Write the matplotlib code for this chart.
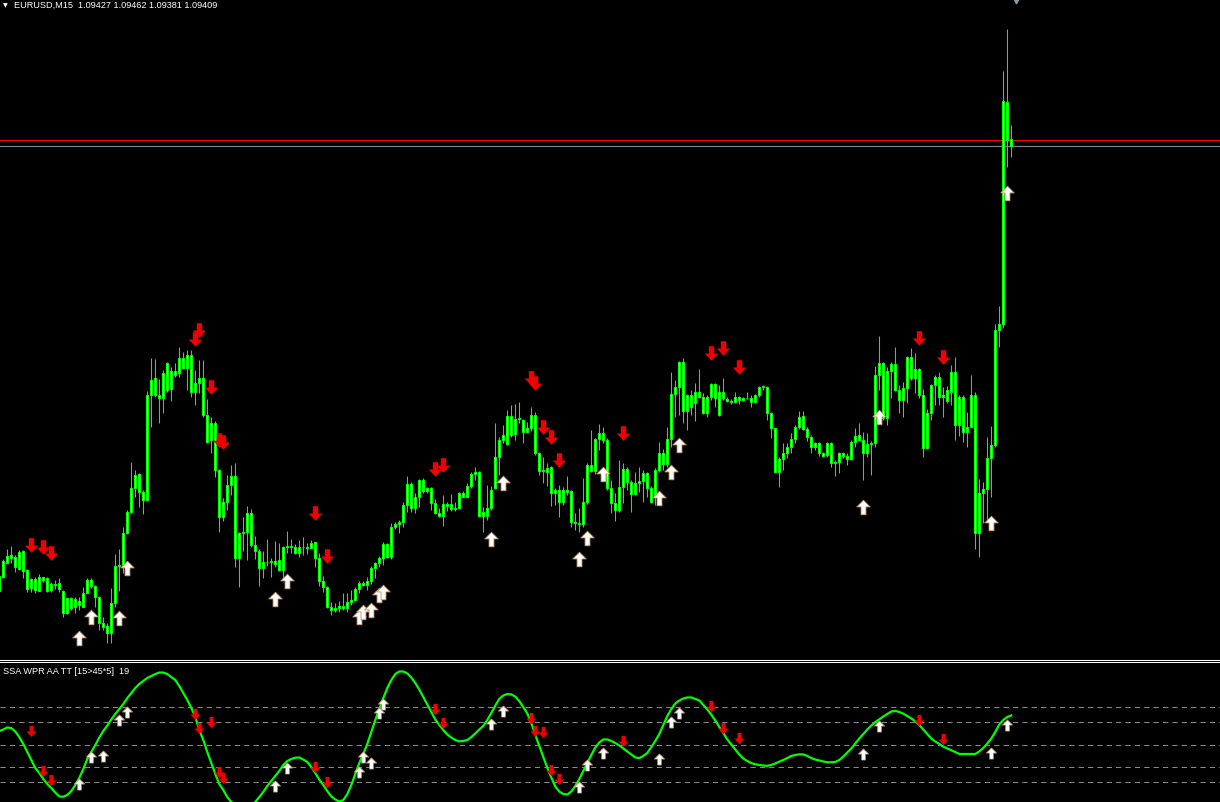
import numpy as np
import matplotlib.pyplot as plt
from matplotlib.path import Path
from matplotlib.lines import Line2D

# EURUSD M15 candles, index -1 .. 252 (the first one is cut by the left edge)
opens = [
    1.08297, 1.08332, 1.08367, 1.08386, 1.08381, 1.08351, 1.08397, 1.08349, 1.08303, 1.08326,
    1.08297, 1.08331, 1.08328, 1.08299, 1.08314, 1.08316, 1.08297, 1.08241, 1.08278, 1.08257,
    1.08272, 1.08257, 1.08292, 1.08324, 1.08309, 1.08282, 1.08216, 1.08209, 1.08191, 1.08267,
    1.08360, 1.08362, 1.08441, 1.08495, 1.08553, 1.08589, 1.08545, 1.08524, 1.08786, 1.08828,
    1.08786, 1.08778, 1.08867, 1.08801, 1.08847, 1.08841, 1.08878, 1.08853, 1.08887, 1.08795,
    1.08817, 1.08828, 1.08736, 1.08674, 1.08716, 1.08599, 1.08482, 1.08520, 1.08562, 1.08584,
    1.08378, 1.08442, 1.08445, 1.08491, 1.08412, 1.08397, 1.08353, 1.08370, 1.08368, 1.08372,
    1.08374, 1.08349, 1.08406, 1.08410, 1.08407, 1.08392, 1.08406, 1.08407, 1.08404, 1.08418,
    1.08378, 1.08322, 1.08306, 1.08257, 1.08249, 1.08255, 1.08259, 1.08255, 1.08270, 1.08274,
    1.08301, 1.08317, 1.08312, 1.08322, 1.08353, 1.08366, 1.08378, 1.08414, 1.08382, 1.08456,
    1.08464, 1.08470, 1.08511, 1.08564, 1.08503, 1.08531, 1.08574, 1.08547, 1.08553, 1.08517,
    1.08491, 1.08484, 1.08514, 1.08514, 1.08501, 1.08505, 1.08541, 1.08532, 1.08559, 1.08589,
    1.08593, 1.08484, 1.08503, 1.08503, 1.08553, 1.08632, 1.08674, 1.08664, 1.08734, 1.08689,
    1.08726, 1.08724, 1.08695, 1.08703, 1.08736, 1.08641, 1.08597, 1.08603, 1.08606, 1.08541,
    1.08549, 1.08520, 1.08549, 1.08547, 1.08470, 1.08467, 1.08464, 1.08520, 1.08612, 1.08597,
    1.08676, 1.08692, 1.08674, 1.08553, 1.08517, 1.08499, 1.08557, 1.08601, 1.08570, 1.08539,
    1.08567, 1.08572, 1.08591, 1.08553, 1.08532, 1.08599, 1.08642, 1.08614, 1.08676, 1.08789,
    1.08806, 1.08870, 1.08747, 1.08786, 1.08766, 1.08795, 1.08782, 1.08742, 1.08782, 1.08814,
    1.08795, 1.08778, 1.08776, 1.08772, 1.08768, 1.08781, 1.08774, 1.08780, 1.08779, 1.08768,
    1.08786, 1.08806, 1.08806, 1.08741, 1.08703, 1.08595, 1.08626, 1.08641, 1.08656, 1.08676,
    1.08707, 1.08734, 1.08701, 1.08681, 1.08656, 1.08666, 1.08642, 1.08636, 1.08666, 1.08616,
    1.08620, 1.08641, 1.08635, 1.08626, 1.08670, 1.08687, 1.08674, 1.08642, 1.08664, 1.08666,
    1.08837, 1.08867, 1.08728, 1.08847, 1.08864, 1.08799, 1.08774, 1.08803, 1.08881, 1.08828,
    1.08851, 1.08787, 1.08653, 1.08742, 1.08812, 1.08831, 1.08782, 1.08772, 1.08795, 1.08845,
    1.08712, 1.08781, 1.08695, 1.08706, 1.08787, 1.08442, 1.08541, 1.08551, 1.08628, 1.08662,
    1.08949, 1.08964, 1.09519, 1.09427,
]
highs = [
    1.08340, 1.08376, 1.08402, 1.08409, 1.08386, 1.08399, 1.08398, 1.08351, 1.08328, 1.08332,
    1.08338, 1.08332, 1.08332, 1.08320, 1.08324, 1.08328, 1.08299, 1.08279, 1.08282, 1.08282,
    1.08282, 1.08307, 1.08328, 1.08328, 1.08311, 1.08284, 1.08232, 1.08216, 1.08303, 1.08389,
    1.08402, 1.08457, 1.08499, 1.08620, 1.08599, 1.08591, 1.08549, 1.08796, 1.08878, 1.08876,
    1.08826, 1.08849, 1.08868, 1.08857, 1.08866, 1.08907, 1.08895, 1.08899, 1.08899, 1.08849,
    1.08874, 1.08874, 1.08776, 1.08731, 1.08722, 1.08601, 1.08528, 1.08586, 1.08612, 1.08616,
    1.08445, 1.08481, 1.08509, 1.08501, 1.08434, 1.08401, 1.08397, 1.08426, 1.08378, 1.08422,
    1.08417, 1.08409, 1.08446, 1.08426, 1.08414, 1.08424, 1.08431, 1.08416, 1.08424, 1.08420,
    1.08392, 1.08334, 1.08309, 1.08270, 1.08266, 1.08272, 1.08291, 1.08291, 1.08299, 1.08307,
    1.08322, 1.08322, 1.08332, 1.08359, 1.08370, 1.08384, 1.08420, 1.08416, 1.08466, 1.08470,
    1.08474, 1.08520, 1.08584, 1.08570, 1.08541, 1.08576, 1.08578, 1.08556, 1.08557, 1.08526,
    1.08503, 1.08537, 1.08520, 1.08539, 1.08520, 1.08545, 1.08547, 1.08566, 1.08595, 1.08606,
    1.08597, 1.08507, 1.08562, 1.08559, 1.08717, 1.08682, 1.08712, 1.08749, 1.08762, 1.08764,
    1.08770, 1.08726, 1.08720, 1.08756, 1.08745, 1.08643, 1.08631, 1.08616, 1.08609, 1.08553,
    1.08562, 1.08557, 1.08584, 1.08549, 1.08491, 1.08503, 1.08578, 1.08616, 1.08699, 1.08679,
    1.08714, 1.08707, 1.08678, 1.08574, 1.08541, 1.08624, 1.08616, 1.08606, 1.08574, 1.08595,
    1.08606, 1.08599, 1.08595, 1.08559, 1.08603, 1.08670, 1.08651, 1.08707, 1.08845, 1.08824,
    1.08872, 1.08878, 1.08790, 1.08799, 1.08816, 1.08851, 1.08791, 1.08786, 1.08817, 1.08817,
    1.08812, 1.08828, 1.08781, 1.08776, 1.08795, 1.08784, 1.08782, 1.08795, 1.08787, 1.08789,
    1.08809, 1.08812, 1.08810, 1.08745, 1.08704, 1.08632, 1.08666, 1.08666, 1.08691, 1.08712,
    1.08747, 1.08747, 1.08706, 1.08686, 1.08670, 1.08670, 1.08645, 1.08670, 1.08668, 1.08624,
    1.08645, 1.08645, 1.08641, 1.08674, 1.08703, 1.08717, 1.08695, 1.08692, 1.08672, 1.08859,
    1.08934, 1.08870, 1.08857, 1.08870, 1.08907, 1.08812, 1.08820, 1.08884, 1.08903, 1.08891,
    1.08853, 1.08801, 1.08751, 1.08814, 1.08837, 1.08845, 1.08807, 1.08809, 1.08862, 1.08882,
    1.08787, 1.08787, 1.08745, 1.08837, 1.08795, 1.08576, 1.08570, 1.08682, 1.08709, 1.08964,
    1.09010, 1.09596, 1.09701, 1.09462,
]
lows = [
    1.08292, 1.08328, 1.08366, 1.08366, 1.08345, 1.08349, 1.08328, 1.08295, 1.08295, 1.08291,
    1.08296, 1.08320, 1.08295, 1.08295, 1.08301, 1.08295, 1.08231, 1.08239, 1.08249, 1.08241,
    1.08249, 1.08256, 1.08291, 1.08303, 1.08256, 1.08199, 1.08199, 1.08166, 1.08166, 1.08257,
    1.08297, 1.08341, 1.08439, 1.08491, 1.08532, 1.08507, 1.08488, 1.08522, 1.08707, 1.08782,
    1.08717, 1.08741, 1.08795, 1.08772, 1.08832, 1.08831, 1.08851, 1.08799, 1.08782, 1.08762,
    1.08791, 1.08731, 1.08666, 1.08641, 1.08582, 1.08445, 1.08472, 1.08499, 1.08537, 1.08356,
    1.08306, 1.08397, 1.08374, 1.08407, 1.08376, 1.08309, 1.08328, 1.08359, 1.08332, 1.08357,
    1.08347, 1.08328, 1.08391, 1.08391, 1.08390, 1.08382, 1.08386, 1.08388, 1.08403, 1.08357,
    1.08309, 1.08295, 1.08253, 1.08236, 1.08245, 1.08245, 1.08249, 1.08245, 1.08261, 1.08272,
    1.08291, 1.08309, 1.08299, 1.08314, 1.08328, 1.08357, 1.08362, 1.08378, 1.08376, 1.08451,
    1.08441, 1.08457, 1.08495, 1.08495, 1.08491, 1.08506, 1.08541, 1.08541, 1.08499, 1.08489,
    1.08481, 1.08459, 1.08497, 1.08497, 1.08497, 1.08501, 1.08531, 1.08531, 1.08553, 1.08574,
    1.08481, 1.08445, 1.08474, 1.08499, 1.08551, 1.08587, 1.08666, 1.08662, 1.08682, 1.08674,
    1.08717, 1.08666, 1.08691, 1.08697, 1.08637, 1.08587, 1.08566, 1.08559, 1.08509, 1.08512,
    1.08482, 1.08512, 1.08537, 1.08457, 1.08449, 1.08445, 1.08457, 1.08514, 1.08595, 1.08589,
    1.08649, 1.08666, 1.08549, 1.08491, 1.08472, 1.08495, 1.08516, 1.08549, 1.08495, 1.08536,
    1.08545, 1.08520, 1.08532, 1.08517, 1.08511, 1.08595, 1.08599, 1.08607, 1.08657, 1.08732,
    1.08736, 1.08717, 1.08699, 1.08736, 1.08722, 1.08778, 1.08739, 1.08731, 1.08774, 1.08756,
    1.08734, 1.08774, 1.08770, 1.08764, 1.08766, 1.08764, 1.08772, 1.08776, 1.08757, 1.08766,
    1.08782, 1.08800, 1.08724, 1.08678, 1.08591, 1.08556, 1.08599, 1.08628, 1.08641, 1.08666,
    1.08701, 1.08699, 1.08672, 1.08642, 1.08649, 1.08635, 1.08632, 1.08632, 1.08607, 1.08584,
    1.08592, 1.08628, 1.08612, 1.08624, 1.08657, 1.08672, 1.08574, 1.08632, 1.08587, 1.08657,
    1.08799, 1.08724, 1.08711, 1.08778, 1.08797, 1.08742, 1.08732, 1.08766, 1.08824, 1.08792,
    1.08778, 1.08631, 1.08651, 1.08724, 1.08762, 1.08762, 1.08731, 1.08766, 1.08762, 1.08674,
    1.08684, 1.08670, 1.08657, 1.08706, 1.08401, 1.08382, 1.08466, 1.08470, 1.08532, 1.08657,
    1.08906, 1.08955, 1.09356, 1.09381,
]
closes = [
    1.08334, 1.08372, 1.08384, 1.08380, 1.08356, 1.08395, 1.08346, 1.08302, 1.08326, 1.08299,
    1.08331, 1.08324, 1.08296, 1.08314, 1.08312, 1.08301, 1.08241, 1.08278, 1.08253, 1.08276,
    1.08261, 1.08292, 1.08324, 1.08309, 1.08282, 1.08216, 1.08207, 1.08191, 1.08267, 1.08360,
    1.08362, 1.08441, 1.08495, 1.08553, 1.08586, 1.08545, 1.08524, 1.08786, 1.08824, 1.08786,
    1.08778, 1.08842, 1.08799, 1.08847, 1.08836, 1.08878, 1.08853, 1.08887, 1.08795, 1.08817,
    1.08828, 1.08736, 1.08670, 1.08716, 1.08599, 1.08482, 1.08520, 1.08562, 1.08584, 1.08378,
    1.08442, 1.08445, 1.08491, 1.08412, 1.08397, 1.08353, 1.08370, 1.08368, 1.08372, 1.08364,
    1.08349, 1.08406, 1.08410, 1.08407, 1.08392, 1.08406, 1.08407, 1.08404, 1.08416, 1.08378,
    1.08322, 1.08306, 1.08257, 1.08249, 1.08255, 1.08259, 1.08255, 1.08270, 1.08274, 1.08301,
    1.08317, 1.08312, 1.08322, 1.08353, 1.08366, 1.08378, 1.08414, 1.08382, 1.08456, 1.08464,
    1.08470, 1.08511, 1.08564, 1.08503, 1.08531, 1.08574, 1.08547, 1.08553, 1.08517, 1.08491,
    1.08484, 1.08514, 1.08509, 1.08501, 1.08505, 1.08541, 1.08532, 1.08559, 1.08589, 1.08593,
    1.08484, 1.08495, 1.08484, 1.08549, 1.08632, 1.08674, 1.08686, 1.08734, 1.08686, 1.08726,
    1.08730, 1.08695, 1.08703, 1.08736, 1.08641, 1.08597, 1.08600, 1.08595, 1.08541, 1.08549,
    1.08520, 1.08549, 1.08545, 1.08470, 1.08467, 1.08464, 1.08520, 1.08612, 1.08597, 1.08676,
    1.08692, 1.08674, 1.08553, 1.08517, 1.08499, 1.08557, 1.08601, 1.08570, 1.08539, 1.08567,
    1.08572, 1.08591, 1.08553, 1.08520, 1.08599, 1.08642, 1.08614, 1.08676, 1.08789, 1.08806,
    1.08870, 1.08747, 1.08786, 1.08757, 1.08795, 1.08782, 1.08742, 1.08782, 1.08814, 1.08778,
    1.08736, 1.08795, 1.08772, 1.08768, 1.08781, 1.08774, 1.08780, 1.08779, 1.08768, 1.08786,
    1.08806, 1.08810, 1.08741, 1.08703, 1.08595, 1.08626, 1.08641, 1.08656, 1.08676, 1.08707,
    1.08731, 1.08701, 1.08681, 1.08656, 1.08666, 1.08642, 1.08634, 1.08666, 1.08616, 1.08620,
    1.08641, 1.08635, 1.08626, 1.08670, 1.08684, 1.08674, 1.08642, 1.08664, 1.08666, 1.08837,
    1.08867, 1.08728, 1.08847, 1.08864, 1.08799, 1.08774, 1.08803, 1.08881, 1.08828, 1.08851,
    1.08787, 1.08653, 1.08742, 1.08812, 1.08831, 1.08782, 1.08786, 1.08799, 1.08845, 1.08712,
    1.08781, 1.08695, 1.08706, 1.08787, 1.08442, 1.08541, 1.08551, 1.08628, 1.08662, 1.08949,
    1.08964, 1.09522, 1.09424, 1.09409,
]
bid = 1.09409
ask = 1.09424

# signal arrows on the price chart (bar index, price)
sell_bars = [7, 10, 12, 48, 49, 52, 54, 55, 78, 81, 108, 110, 132, 133, 135, 137, 139,
             155, 177, 180, 184, 229, 235]
sell_prices = [1.08411, 1.08407, 1.08391, 1.08926, 1.08949, 1.08807, 1.08674, 1.08669,
               1.08492, 1.08384, 1.08601, 1.08611, 1.08829, 1.08817, 1.08706, 1.08681,
               1.08624, 1.08691, 1.08892, 1.08904, 1.08857, 1.08929, 1.08882]
buy_bars = [19, 22, 29, 31, 68, 71, 89, 90, 92, 94, 95, 122, 125, 144, 146, 150, 164,
            167, 169, 215, 219, 247, 251]
buy_prices = [1.08179, 1.08232, 1.08229, 1.08354, 1.08276, 1.08322, 1.08232, 1.08244,
              1.08249, 1.08287, 1.08294, 1.08426, 1.08567, 1.08376, 1.08429, 1.08589,
              1.08529, 1.08594, 1.08662, 1.08507, 1.08732, 1.08466, 1.09292]

# SSA WPR oscillator, one value per bar
osc = [
    -40.7, -39.7, -38.3, -38.7, -41.0, -44.7, -49.3, -54.7, -60.0, -65.3,
    -68.7, -72.7, -76.0, -78.7, -81.7, -84.3, -84.5, -83.3, -80.7, -76.7,
    -72.0, -66.0, -59.3, -54.7, -50.0, -45.0, -40.7, -37.0, -33.0, -29.3,
    -26.0, -22.7, -18.7, -15.3, -12.0, -9.3, -7.3, -5.3, -4.0, -2.7,
    -1.7, -1.7, -2.7, -4.7, -6.7, -10.7, -15.3, -20.0, -25.3, -31.3,
    -40.0, -46.7, -54.7, -62.0, -69.3, -76.0, -80.0, -84.7, -88.0, -90.0,
    -91.3, -92.0, -91.3, -90.0, -88.0, -84.7, -81.3, -77.3, -74.0, -70.7,
    -67.3, -63.3, -60.7, -59.3, -58.5, -58.3, -59.7, -61.3, -64.7, -68.7,
    -73.0, -76.7, -80.7, -84.3, -86.3, -87.7, -86.7, -82.7, -76.7, -69.3,
    -62.0, -56.0, -49.3, -41.3, -33.3, -26.0, -18.7, -12.0, -6.7, -2.7,
    -1.0, -1.0, -2.3, -5.0, -8.7, -13.0, -18.0, -23.0, -28.0, -33.0,
    -36.7, -40.0, -43.0, -45.0, -46.7, -47.6, -47.3, -46.7, -44.7, -42.3,
    -39.7, -37.3, -33.3, -28.7, -23.7, -19.3, -17.0, -16.0, -16.3, -17.7,
    -20.7, -24.7, -29.0, -35.3, -43.3, -50.7, -58.0, -65.3, -71.7, -77.7,
    -81.0, -82.7, -83.0, -81.0, -77.3, -72.7, -67.3, -62.0, -56.7, -51.7,
    -48.3, -46.3, -46.3, -47.3, -48.7, -50.3, -52.3, -54.3, -56.3, -58.3,
    -58.7, -57.3, -55.3, -51.3, -47.3, -42.7, -36.7, -30.7, -26.0, -22.3,
    -20.3, -19.0, -18.3, -18.3, -19.3, -20.3, -23.3, -26.3, -29.7, -33.7,
    -38.0, -42.0, -46.3, -49.7, -53.0, -56.3, -59.0, -60.7, -62.0, -62.9,
    -63.3, -63.7, -63.9, -63.3, -62.3, -61.1, -60.0, -58.7, -57.3, -56.7,
    -56.2, -56.3, -57.3, -58.7, -59.7, -60.3, -61.0, -61.5, -61.5, -61.3,
    -60.0, -57.7, -55.0, -52.3, -49.0, -45.7, -42.7, -39.7, -37.0, -34.7,
    -32.9, -31.0, -29.3, -27.7, -27.2, -28.0, -29.1, -30.7, -32.3, -34.3,
    -36.7, -39.7, -42.7, -45.7, -47.7, -49.3, -51.1, -52.3, -53.5, -54.7,
    -56.0, -56.0, -56.0, -56.0, -56.0, -54.3, -52.0, -49.0, -45.7, -41.3,
    -36.3, -33.3, -31.3, -30.3,
]
osc_levels = [-25, -35, -50, -65, -75]
osc_sell_bars = [7, 10, 12, 48, 49, 52, 54, 55, 78, 81, 108, 110, 132, 133, 135, 137,
                 139, 155, 177, 180, 184, 229, 235]
osc_sell_vals = [-40.7, -67.1, -73.3, -29.5, -38.9, -34.9, -68.2, -71.8, -64.5, -74.5,
                 -25.7, -35.6, -31.7, -40.8, -41.3, -66.8, -72.9, -47.6, -23.9, -39.0,
                 -45.3, -33.3, -46.2]
osc_buy_bars = [19, 22, 25, 29, 31, 68, 71, 89, 90, 92, 94, 95, 122, 125, 144, 146,
                150, 164, 167, 169, 215, 219, 247, 251]
osc_buy_vals = [-76.2, -57.8, -57.1, -33.3, -27.8, -77.1, -65.1, -68.2, -57.8, -62.2,
                -28.9, -22.9, -35.8, -27.2, -78.1, -63.4, -55.5, -59.3, -34.7, -28.8,
                -56.1, -37.4, -55.1, -36.7]

bars = np.arange(-1, len(opens) - 1)
o = np.array(opens)
c = np.array(closes)

LIME = '#00ff00'
W, H = 1220.0, 802.0

# arrow shapes (pixel-ish units, normalised by matplotlib)
MOVE, LINE, CLOSE = Path.MOVETO, Path.LINETO, Path.CLOSEPOLY
down_arrow = Path([(-2.4, 6.5), (2.4, 6.5), (2.4, 0), (6, 0), (0, -6.5), (-6, 0),
                   (-2.4, 0), (-2.4, 6.5)], [MOVE] + [LINE] * 6 + [CLOSE])
up_arrow = Path([(0, 6.5), (6, 0.5), (2.2, 0.5), (2.2, -6.5), (-2.2, -6.5), (-2.2, 0.5),
                 (-6, 0.5), (0, 6.5)], [MOVE] + [LINE] * 6 + [CLOSE])

fig = plt.figure(figsize=(12.2, 8.02), dpi=100, facecolor='black')

# main price window
ax = fig.add_axes([0, 1 - 659.5 / H, 1, 659.5 / H])
ax.set_facecolor('black')
ax.set_xlim(-0.825, 304.175)
ax.set_ylim(1.081253, 1.09774)
ax.axis('off')

ax.axhline(ask, color='#ff0000', lw=0.8, zorder=1)
ax.axhline(bid, color='#778899', lw=0.8, zorder=1)
ax.vlines(bars, lows, highs, colors=LIME, lw=0.75, zorder=2)
ax.bar(bars, np.abs(c - o), bottom=np.minimum(o, c), width=0.55, color='white',
       edgecolor=LIME, linewidth=0.8, zorder=3)

ax.plot(sell_bars, sell_prices, ls='none', marker=down_arrow, ms=10.5,
        mfc='#f00000', mec='#f00000', mew=0, zorder=5)
ax.plot(buy_bars, buy_prices, ls='none', marker=up_arrow, ms=10.5,
        mfc='white', mec='#c89060', mew=0.6, zorder=5)
# chart shift marker
ax.plot([(1016 - 3.3) / 4], [1.09772], ls='none', marker='v', ms=3.5,
        color='#8c9aa8', clip_on=False, zorder=6)

# oscillator window
sub = fig.add_axes([0, 0, 1, 140 / H])
sub.set_facecolor('black')
sub.set_xlim(-0.825, 304.175)
sub.set_ylim(-88, 5.33)
sub.axis('off')
for lv in osc_levels:
    sub.axhline(lv, color='#8a8a8a', lw=0.75, ls=(0, (5, 4)), zorder=1)
sub.plot(bars, osc, color=LIME, lw=1.6, zorder=2)
sub.plot(osc_sell_bars, osc_sell_vals, ls='none', marker=down_arrow, ms=8,
         mfc='#f00000', mec='#f00000', mew=0, zorder=4)
sub.plot(osc_buy_bars, osc_buy_vals, ls='none', marker=up_arrow, ms=8,
         mfc='white', mec='#c89060', mew=0.5, zorder=4)

# window separator
for yp in (659.5, 661.5):
    fig.add_artist(Line2D([0, 1], [1 - yp / H] * 2, transform=fig.transFigure,
                          color='white', lw=0.75))

# labels
fig.text(2.5 / W, 1 - 6 / H, '\u25bc', color='white', fontsize=4.5,
         family='DejaVu Sans', va='center', ha='left')
fig.text(14 / W, 1 - 5.5 / H, 'EURUSD,M15  1.09427 1.09462 1.09381 1.09409',
         color='white', fontsize=6.6, family='Liberation Sans', va='center', ha='left')
fig.text(3 / W, 1 - 671.5 / H, 'SSA WPR AA TT [15>45*5]  19', color='white',
         fontsize=6.6, family='Liberation Sans', va='center', ha='left')

fig.savefig('out.png', dpi=100, facecolor='black')
